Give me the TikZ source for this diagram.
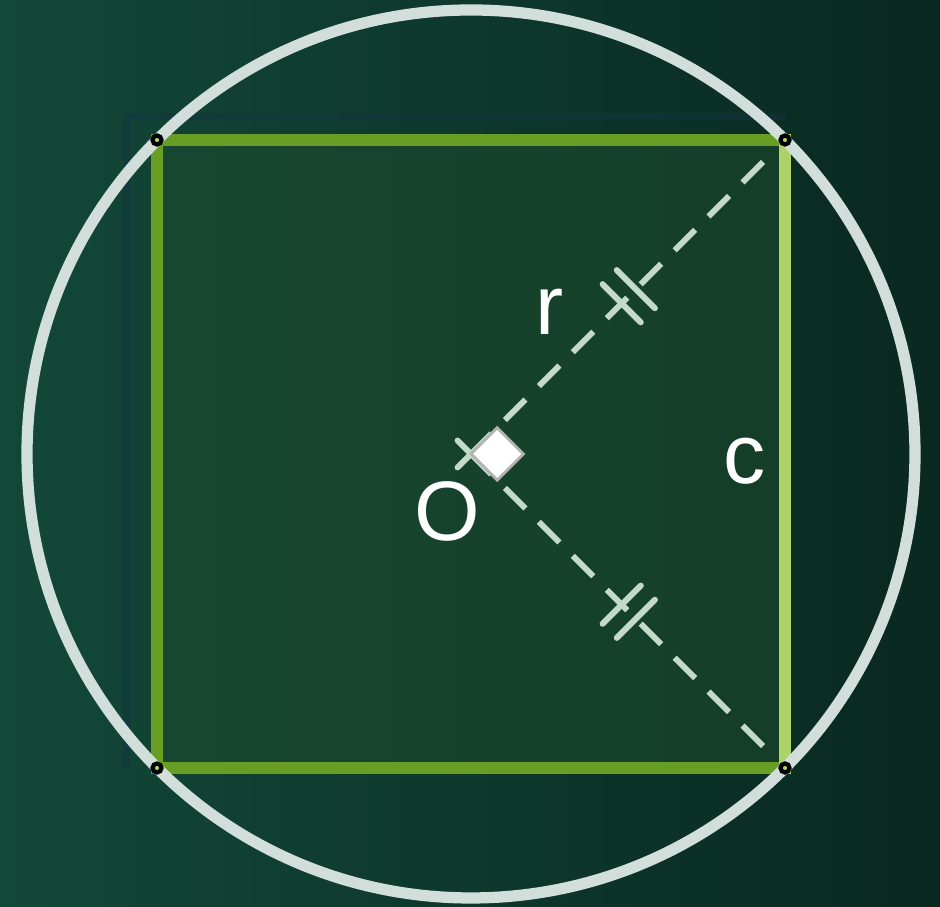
\documentclass[tikz,border=0pt]{standalone}
\usepackage{fontspec}
\setmainfont{Liberation Sans}
\usetikzlibrary{calc}

\definecolor{boardL}{RGB}{18,72,56}
\definecolor{boardR}{RGB}{9,40,32}
\definecolor{boardin}{RGB}{30,76,46}
\definecolor{edgegreen}{RGB}{104,158,36}
\definecolor{edgelight}{RGB}{172,210,104}
\definecolor{rimgray}{RGB}{210,222,218}
\definecolor{dashgray}{RGB}{196,218,200}
\definecolor{navyline}{RGB}{20,52,70}

\begin{document}
\begin{tikzpicture}[
  rim/.style={draw=rimgray, line width=3.2pt},
  sq/.style={draw=edgegreen, line width=3.6pt, line cap=rect},
  radius line/.style={draw=dashgray, line width=1.7pt, dash pattern=on 0.29cm off 0.19cm},
  tick/.style={draw=dashgray, line width=1.7pt, line cap=round},
  vertex/.style={circle, draw=black, fill=edgelight, line width=1.2pt, inner sep=0pt, minimum size=0.09cm},
  lab/.style={text=white, inner sep=0pt, font=\fontsize{24}{28}\selectfont}
]

% ===================== Board =====================
\shade[left color=boardL, right color=boardR] (0,0) rectangle (9.4,9.07);
\useasboundingbox (0,0) rectangle (9.4,9.07);

% Centre and corners
\coordinate (O) at (4.71,4.53);
\coordinate (A) at (1.57,1.39);   % bottom left
\coordinate (B) at (7.85,1.39);   % bottom right
\coordinate (C) at (7.85,7.67);   % top right
\coordinate (D) at (1.57,7.67);   % top left

% Faint shadow of the square
\draw[navyline, line width=2pt, opacity=0.5] (1.27,1.39) -- (1.27,7.9) -- (7.85,7.9);

% Square
\fill[boardin, opacity=0.55] (A) rectangle (C);
\draw[sq] (A) -- (B);
\draw[sq] (C) -- (D) -- (A);
\draw[sq, draw=edgelight] (B) -- (C);

% Circumscribed circle
\draw[rim] (O) circle (4.44);

% Radii
\draw[radius line] (O) -- ($(C)!0.23cm!(O)$);
\draw[radius line] (O) -- ($(B)!0.23cm!(O)$);
\draw[tick] ($(O)!-0.19cm!(B)$) -- (O);
\draw[tick] ($(O)!-0.19cm!(C)$) -- (O);

% Equal marks
\foreach \p in {0.48,0.525} {
  \draw[tick] ($($(O)!\p!(C)$)!0.27cm!90:(C)$) -- ($($(O)!\p!(C)$)!0.27cm!-90:(C)$);
  \draw[tick] ($($(O)!\p!(B)$)!0.27cm!90:(B)$) -- ($($(O)!\p!(B)$)!0.27cm!-90:(B)$);
}

% Right angle at O
\filldraw[fill=white, draw=gray!60, line width=0.8pt]
  (O) -- ++(45:0.37) -- ++(-45:0.37) -- ++(-135:0.37) -- cycle;

% Corner points
\foreach \c in {A,B,C,D} \node[vertex] at (\c) {};

% Labels
\node[lab] (lr) at (5.5,5.95) {r};
\node[lab] (lc) at (7.45,4.46) {c};
\node[lab] (lO) at (4.47,3.96) {O};

\end{tikzpicture}
\end{document}
